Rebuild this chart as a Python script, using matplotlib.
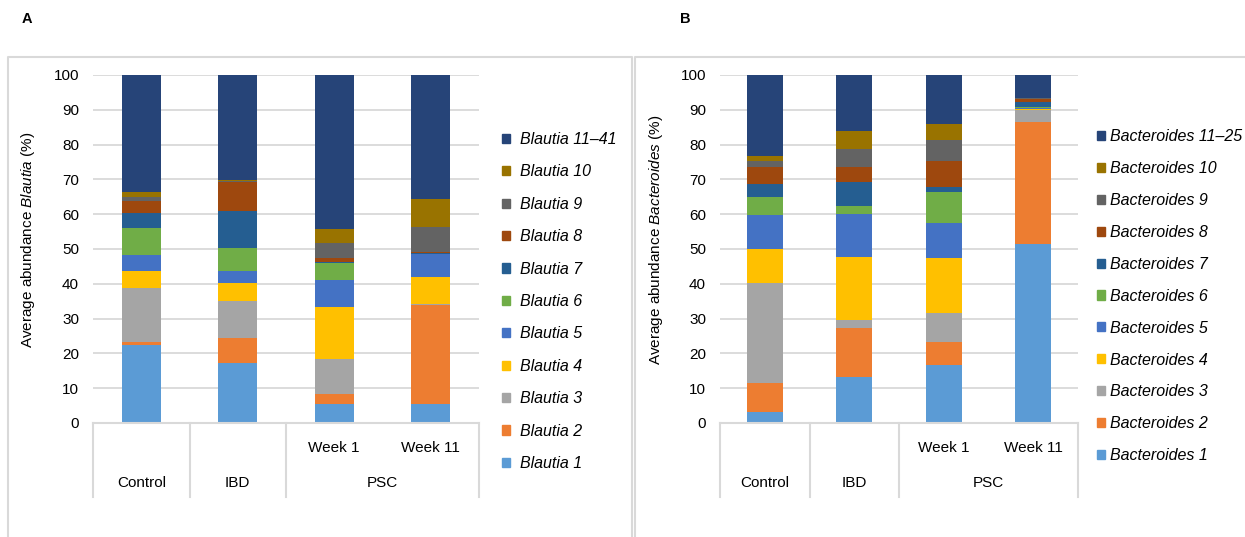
import numpy as np
import matplotlib.pyplot as plt
from matplotlib.patches import Patch
from matplotlib.lines import Line2D

plt.rcParams['font.family'] = 'Liberation Sans'
plt.rcParams['font.size'] = 11
plt.rcParams['mathtext.fontset'] = 'custom'
plt.rcParams['mathtext.rm'] = 'Liberation Sans'
plt.rcParams['mathtext.it'] = 'Liberation Sans:italic'

# categories (two-level axis)
groups = ['Control', 'IBD', 'PSC']
bar_group = [0, 1, 2, 2]
weeks = ['', '', 'Week 1', 'Week 11']

# Blautia, % per species group (1..10, 11-41), one list per bar
blautia_names = ['Blautia %d' % i for i in range(1, 11)] + ['Blautia 11\u201341']
blautia_control = [22.4, 1.0, 15.4, 4.8, 4.8, 7.7, 4.3, 3.5, 1.0, 1.5, 33.6]
blautia_ibd = [17.1, 7.3, 10.6, 5.3, 3.3, 6.8, 10.6, 8.2, 0.3, 0.3, 30.2]
blautia_week1 = [5.6, 2.6, 10.1, 14.9, 8.0, 4.8, 0.3, 1.2, 4.1, 4.1, 44.3]
blautia_week11 = [5.6, 28.4, 0.3, 7.6, 6.6, 0.2, 0.2, 0.3, 7.0, 8.2, 35.6]

# Bacteroides, % per species group (1..10, 11-25)
bacteroides_names = ['Bacteroides %d' % i for i in range(1, 11)] + ['Bacteroides 11\u201325']
bacteroides_control = [3.2, 8.2, 28.9, 9.6, 9.9, 5.2, 3.7, 4.8, 1.9, 1.2, 23.4]
bacteroides_ibd = [13.3, 14.0, 2.4, 18.0, 12.3, 2.4, 6.8, 4.5, 5.1, 5.1, 16.1]
bacteroides_week1 = [16.7, 6.7, 8.2, 15.7, 10.3, 8.7, 1.4, 7.7, 5.8, 4.8, 14.0]
bacteroides_week11 = [51.3, 35.2, 3.4, 0.2, 0.3, 0.3, 1.5, 0.8, 0.3, 0.2, 6.5]

colors = ['#5b9bd5', '#ed7d31', '#a5a5a5', '#ffc000', '#4472c4', '#70ad47',
          '#255e91', '#9e480e', '#636363', '#997300', '#264478']
line_grey = '#d9d9d9'

W, H = 1245, 537
fig = plt.figure(figsize=(W / 100, H / 100), dpi=100)


def fx(x):
    return x / W


def fy(y):
    return 1 - y / H


def panel(left, right, values, names, genus, ylab_x, leg_x, leg_y, textpad, spacing):
    ax = fig.add_axes([fx(left), fy(423), fx(right - left), fy(75) - fy(423)])
    data = np.array(values)
    x = np.arange(data.shape[0])
    bottom = np.zeros(data.shape[0])
    for k in range(data.shape[1]):
        ax.bar(x, data[:, k], bottom=bottom, width=0.4, color=colors[k], lw=0, zorder=2)
        bottom += data[:, k]
    ax.set_xlim(-0.5, len(x) - 0.5)
    ax.set_ylim(0, 100)
    ax.set_yticks(np.arange(0, 101, 10))
    ax.set_xticks([])
    ax.yaxis.grid(True, color=line_grey, lw=1.3)
    ax.set_axisbelow(True)
    for s in ['top', 'right', 'left']:
        ax.spines[s].set_visible(False)
    ax.spines['bottom'].set_color(line_grey)
    ax.spines['bottom'].set_linewidth(1.5)
    ax.tick_params(axis='y', length=0, pad=10, labelsize=11)
    ax.set_ylabel('Average abundance $\\it{%s}$ (%%)' % genus, fontsize=11)
    ax.yaxis.set_label_coords(ylab_x, 0.526)

    # two-level category axis
    tr = ax.get_xaxis_transform()
    h = 348.0
    bounds = [-0.5]
    for i in range(1, len(x)):
        if bar_group[i] != bar_group[i - 1]:
            bounds.append(i - 0.5)
    bounds.append(len(x) - 0.5)
    for b in bounds:
        ax.add_line(Line2D([b, b], [0, -74 / h], transform=tr, color=line_grey,
                           lw=1.5, clip_on=False))
    for i in x:
        ax.text(i, -25 / h, weeks[i], transform=tr, ha='center', va='center', fontsize=11)
    for g, name in enumerate(groups):
        pos = np.mean([i for i in x if bar_group[i] == g])
        ax.text(pos, -60 / h, name, transform=tr, ha='center', va='center', fontsize=11)

    handles = [Patch(color=colors[k], label=names[k]) for k in range(len(names))][::-1]
    leg = ax.legend(handles=handles, loc='upper left', bbox_to_anchor=(fx(leg_x), fy(leg_y)),
                    bbox_transform=fig.transFigure, frameon=False, fontsize=11.5,
                    handlelength=0.5, handleheight=0.5, handletextpad=textpad,
                    labelspacing=spacing, borderpad=0, borderaxespad=0)
    for t in leg.get_texts():
        t.set_fontstyle('italic')
    return ax


panel(93, 479, [blautia_control, blautia_ibd, blautia_week1, blautia_week11],
      blautia_names, 'Blautia', -0.145, 502, 132, 0.6, 1.09)
panel(720, 1078, [bacteroides_control, bacteroides_ibd, bacteroides_week1, bacteroides_week11],
      bacteroides_names, 'Bacteroides', -0.154, 1097, 129, 0.3, 1.06)

# panel frames
for xs, ys in [([8, 8, 632, 632], [H + 5, 57, 57, H + 5]),
               ([635, 635, W + 5], [H + 5, 57, 57])]:
    fig.add_artist(Line2D([fx(v) for v in xs], [fy(v) for v in ys], color=line_grey, lw=1.5))

fig.text(fx(27), fy(19), 'A', fontsize=10.5, fontweight='bold', ha='center', va='center')
fig.text(fx(685), fy(19), 'B', fontsize=10.5, fontweight='bold', ha='center', va='center')

fig.savefig('out.png', dpi=100)
